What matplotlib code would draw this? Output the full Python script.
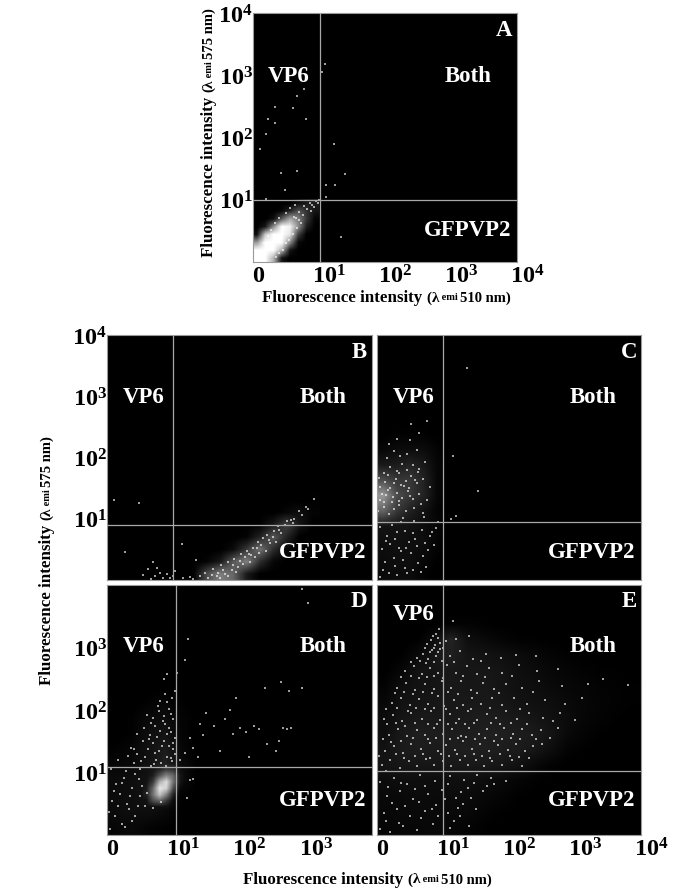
import matplotlib
matplotlib.use("Agg")
import matplotlib.pyplot as plt
import numpy as np
from matplotlib.colors import LinearSegmentedColormap
from matplotlib.transforms import ScaledTranslation

plt.rcParams['font.family'] = ['Liberation Serif', 'DejaVu Serif']
plt.rcParams['font.weight'] = 'bold'
plt.rcParams['mathtext.fontset'] = 'custom'
plt.rcParams['mathtext.rm'] = 'Liberation Serif:bold'
plt.rcParams['mathtext.bf'] = 'Liberation Serif:bold'

W = 685
H = 895

# all intensities are log10 values (0 = the "0" tick)
decade_labels = ['0', r'$\mathbf{10^{1}}$', r'$\mathbf{10^{2}}$', r'$\mathbf{10^{3}}$', r'$\mathbf{10^{4}}$']
quadrants = ['VP6', 'Both', 'GFPVP2']

# gate lines (x, y) per panel
gate_a = (1.01, 1.00)
gate_b = (1.00, 0.89)
gate_c = (1.00, 0.94)
gate_d = (1.04, 1.09)
gate_e = (1.00, 1.03)

# read density of the clouds, rows go bottom to top
a_cloud = [[1, 1, .7, .08, 0, 0, 0, 0],
           [1, 1, 1, .7, .08, 0, 0, 0],
           [.6, 1, 1, 1, .55, .04, 0, 0],
           [.06, .8, 1, 1, .9, .25, 0, 0],
           [0, .1, .55, 1, .95, .55, .12, 0],
           [0, 0, .06, .35, .65, .5, .22, .02],
           [0, 0, 0, .03, .14, .32, .2, .08],
           [0, 0, 0, 0, 0, .05, .1, .12]]
a_cloud_box = (0, 1, 0, 1)

b_cloud = [[0, .3, .5, .4, .1, 0, 0, 0, 0, 0],
           [0, .02, .1, .35, .5, .18, .03, 0, 0, 0],
           [0, 0, 0, .05, .22, .45, .18, .02, 0, 0],
           [0, 0, 0, 0, .02, .14, .35, .14, 0, 0],
           [0, 0, 0, 0, 0, .01, .1, .26, .08, 0],
           [0, 0, 0, 0, 0, 0, 0, .03, .06, .02],
           [0, 0, 0, 0, 0, 0, 0, 0, 0, .01]]
b_cloud_box = (1.2, 3.2, 0, 1.4)

c_cloud = [[.04, .05, .05, .02, 0, 0],
           [.05, .06, .06, .04, .01, 0],
           [.06, .07, .06, .06, .02, 0],
           [.08, .08, .07, .05, .03, 0],
           [.4, .22, .13, .07, .02, 0],
           [.6, .3, .22, .14, .03, 0],
           [.3, .22, .22, .14, .03, 0],
           [.1, .11, .14, .1, .03, 0],
           [.03, .05, .05, .05, .02, 0],
           [0, .01, .01, .01, 0, 0]]
c_cloud_box = (0, 1.2, 0, 2.5)

d_haze = [[.03, .04, .02, .01, 0, 0],
          [.05, .06, .06, .04, 0, 0],
          [.05, .06, .08, .12, .01, 0],
          [.05, .06, .08, .15, .05, 0],
          [.03, .04, .07, .13, .05, 0],
          [.01, .03, .07, .11, .03, 0],
          [0, .01, .06, .08, .02, 0],
          [0, .01, .04, .05, .02, 0],
          [0, 0, .01, .03, .01, 0],
          [0, 0, 0, 0, 0, 0]]
d_haze_box = (0, 1.5, 0, 2.5)

d_core = [[0, 0, 0, 0, 0, 0, 0],
          [0, .25, .35, .15, 0, 0, 0],
          [.05, .4, .75, .45, .08, 0, 0],
          [.03, .35, .9, .8, .25, .01, 0],
          [0, .15, .65, .85, .4, .04, 0],
          [0, .03, .25, .45, .35, .04, 0],
          [0, 0, .03, .12, .12, .01, 0],
          [0, 0, 0, 0, 0, 0, 0]]
d_core_box = (.55, 1.25, .4, 1.2)

e_cloud = [[.07, .08, .08, .09, .08, .05, .02, .01, 0, 0, 0, 0, 0, 0, 0, 0],
           [.08, .1, .1, .1, .1, .09, .05, .02, .01, 0, 0, 0, 0, 0, 0, 0],
           [.1, .1, .12, .11, .12, .12, .09, .06, .02, .01, 0, 0, 0, 0, 0, 0],
           [.12, .14, .14, .13, .15, .15, .13, .1, .06, .03, .01, 0, 0, 0, 0, 0],
           [.2, .22, .22, .22, .24, .24, .24, .22, .18, .1, .04, .01, 0, 0, 0, 0],
           [.18, .26, .28, .26, .28, .3, .3, .28, .26, .22, .14, .05, .02, 0, 0, 0],
           [.14, .24, .3, .28, .28, .28, .3, .3, .28, .26, .2, .1, .05, .02, .01, 0],
           [.12, .2, .24, .24, .24, .26, .28, .26, .24, .2, .16, .12, .07, .04, .02, .01],
           [.08, .18, .2, .22, .24, .24, .24, .22, .18, .16, .14, .1, .07, .05, .03, .02],
           [.04, .14, .18, .2, .24, .22, .24, .2, .16, .14, .1, .08, .06, .04, .03, .02],
           [.01, .08, .18, .2, .24, .22, .22, .2, .15, .12, .08, .06, .04, .02, .02, .01],
           [0, .02, .1, .22, .3, .2, .18, .16, .12, .09, .05, .03, .01, .01, 0, 0],
           [0, 0, .02, .14, .34, .14, .1, .06, .03, .02, .01, 0, 0, 0, 0, 0],
           [0, 0, 0, .01, .04, .04, .02, .01, 0, 0, 0, 0, 0, 0, 0, 0],
           [0] * 16,
           [0] * 16]
e_cloud_box = (0, 4, 0, 4)
e_cloud_level = .42

# single events picked out of each panel
a_points = [(.11, 1.82), (.23, 2.30), (.33, 2.49), (.34, 2.24), (.61, 2.47), (.66, 2.67), (.78, 2.78),
            (.80, 2.29), (1.04, 3.05), (1.09, 3.18), (.19, 2.06), (1.22, 1.90), (1.39, 1.41), (.43, 1.43),
            (.67, 1.46), (.48, 1.15), (1.24, 1.23), (1.11, 1.24), (1.11, 1.04), (1.34, .40), (.2, 1.02),
            (.62, .72), (.7, .8), (.75, .75), (.82, .85), (.9, .92), (.95, .98), (.86, .95), (.78, .9),
            (.72, .62), (.66, .55), (.6, .45), (.55, .35), (.5, .3), (.45, .2), (.4, .15), (.35, .08),
            (.28, .52), (.22, .42), (.33, .62), (.4, .7), (.5, .78), (.56, .86), (.63, .92), (.16, .3),
            (1.0, 1.0), (.98, .95), (.92, .88), (.88, .82), (.7, .68), (.65, .7)]

b_points = [(.1, 1.3), (.48, 1.25), (.27, .45), (1.13, .58), (1.35, .33), (.7, .3), (.75, .2), (.62, .18),
            (.8, .12), (.9, .1), (.85, .04), (.72, .06), (.95, .03), (.55, .08), (.66, .02), (1.0, .06),
            (1.02, .14), (1.15, .03), (1.25, .05), (1.3, .02), (1.4, .06), (1.48, .12), (1.52, .03),
            (1.6, .18), (1.58, .08), (1.68, .12), (1.72, .24), (1.78, .1), (1.82, .3), (1.88, .16),
            (1.92, .34), (1.98, .22), (2.02, .42), (2.05, .26), (2.12, .48), (2.16, .3), (2.2, .52),
            (2.24, .38), (2.28, .62), (2.3, .44), (2.35, .68), (2.4, .48), (2.42, .74), (2.46, .6),
            (2.52, .8), (2.55, .62), (2.58, .88), (2.62, .76), (2.68, .9), (2.72, .96), (2.78, .98),
            (2.82, 1.0), (2.8, .93), (2.9, 1.12), (3.0, 1.2), (3.12, 1.32), (3.03, 1.16), (2.95, 1.06),
            (1.7, .04), (1.83, .07), (1.94, .13), (2.0, .31), (2.09, .37), (2.18, .41), (2.27, .53), (2.33, .57),
            (2.44, .66), (2.5, .71), (2.6, .82), (1.75, .17), (1.66, .06), (1.9, .24), (2.14, .43)]

c_points = [(.05, .05), (.18, .12), (.3, .08), (.42, .2), (.55, .16), (.12, .3), (.25, .36), (.4, .33),
            (.52, .44), (.62, .28), (.7, .4), (.08, .5), (.2, .58), (.34, .52), (.48, .62), (.6, .55),
            (.72, .6), (.8, .72), (.15, .72), (.3, .78), (.42, .8), (.55, .76), (.68, .82), (.9, .85),
            (.05, .86), (.22, .9), (.36, .95), (.92, .95), (1.12, 1.0), (1.2, 1.05), (.02, 1.12), (.1, 1.2),
            (.18, 1.08), (.26, 1.16), (.34, 1.22), (.44, 1.12), (.56, 1.18), (.7, 1.1), (.05, 1.3), (.14, 1.38),
            (.22, 1.28), (.3, 1.42), (.38, 1.34), (.47, 1.46), (.55, 1.32), (.64, 1.4), (.75, 1.3), (.04, 1.52),
            (.12, 1.6), (.2, 1.5), (.29, 1.65), (.36, 1.55), (.44, 1.62), (.52, 1.7), (.6, 1.58), (.7, 1.65),
            (.8, 1.52), (.1, 1.75), (.2, 1.85), (.3, 1.78), (.38, 1.9), (.46, 1.8), (.55, 1.88), (.64, 1.82),
            (.72, 1.92), (.15, 2.0), (.25, 2.1), (.35, 2.02), (.45, 2.05), (.6, 2.12), (.3, 2.3), (.5, 2.28),
            (.63, 2.4), (.52, 2.55), (.76, 2.6), (.18, 2.22), (1.37, 3.46), (1.15, 2.03), (1.53, 1.45),
            (.07, 1.41), (.11, 1.27), (.16, 1.47), (.24, 1.36), (.33, 1.29), (.41, 1.53), (.5, 1.37), (.58, 1.63),
            (.67, 1.24), (.03, 1.67), (.17, 1.71), (.26, 1.58), (.34, 1.74), (.49, 1.51), (.62, 1.77), (.09, .17),
            (.27, .23), (.37, .47), (.46, .11), (.57, .67), (.66, .13), (.74, .21), (.13, .63), (.28, .67),
            (.44, .53), (.77, .49), (.86, .57), (.4, 1.01), (.56, .97), (.71, 1.03), (.83, .79)]

d_points = [(.05, .1), (.12, .3), (.22, .18), (.33, .42), (.08, .55), (.2, .66), (.3, .5), (.42, .3),
            (.5, .62), (.58, .46), (.13, .82), (.26, .92), (.38, .75), (.48, .9), (.06, 1.05), (.16, 1.2),
            (.28, 1.02), (.4, 1.15), (.5, 1.05), (.58, 1.25), (.66, 1.1), (.74, 1.2), (.82, 1.15), (.9, 1.25),
            (.98, 1.18), (.36, 1.4), (.45, 1.3), (.54, 1.5), (.62, 1.38), (.7, 1.48), (.78, 1.35), (.86, 1.5),
            (.94, 1.42), (1.02, 1.3), (.46, 1.62), (.56, 1.72), (.65, 1.6), (.72, 1.75), (.8, 1.66), (.88, 1.78),
            (.96, 1.65), (1.03, 1.55), (.6, 1.92), (.7, 1.88), (.78, 1.98), (.86, 1.9), (.94, 2.02), (1.0, 1.85),
            (.8, 2.15), (.88, 2.25), (.98, 2.2), (1.02, 2.3), (.86, 2.5), (.9, 2.58), (1.22, 3.13), (1.18, 2.8),
            (1.06, 2.6), (3.03, 3.72), (2.95, 3.94), (1.1, 1.2), (1.18, 1.32), (1.25, 1.55), (1.3, 1.4),
            (1.38, 1.25), (1.45, 1.6), (1.4, 1.78), (1.5, 1.95), (1.62, 1.75), (1.7, 1.35), (1.78, 1.85),
            (1.85, 2.0), (1.9, 1.62), (2.0, 1.72), (2.1, 1.65), (2.15, 1.25), (2.22, 1.75), (2.3, 1.7),
            (2.38, 2.35), (2.42, 1.45), (2.55, 1.35), (2.6, 1.5), (2.65, 1.72), (2.72, 1.7), (2.78, 1.72),
            (2.75, 2.3), (2.95, 2.35), (2.62, 2.45), (1.95, 2.2), (1.3, .9), (1.25, .88), (1.2, .6),
            (.03, .37), (.17, .47), (.27, .13), (.37, .23), (.47, .47), (.11, .71), (.23, .83), (.35, .63),
            (.43, .97), (.53, .79), (.61, .67), (.69, .43), (.81, .53), (.31, 1.27), (.41, 1.37), (.51, 1.19),
            (.63, 1.53), (.73, 1.31), (.83, 1.43), (.91, 1.61), (.99, 1.37), (.75, 1.57), (.85, 1.83), (.93, 1.71),
            (.97, 1.93), (.67, 1.79), (.77, 2.07), (.91, 2.13), (1.0, 1.47), (.89, 1.11), (.96, 1.23), (.71, 1.13)]

e_points = [(.05, .1), (.2, .05), (.4, .15), (.6, .08), (.85, .18), (1.1, .12), (1.25, .3), (1.4, .15),
            (.1, .35), (.3, .42), (.5, .3), (.72, .38), (.9, .48), (1.08, .35), (1.3, .5), (1.5, .42),
            (.15, .62), (.35, .7), (.55, .58), (.78, .66), (.98, .72), (1.2, .6), (1.38, .75), (1.6, .7),
            (1.78, .82), (.05, .85), (.25, .92), (.45, .82), (.65, .96), (.88, .86), (1.1, .94), (1.32, .88),
            (1.52, .96), (1.72, .92), (1.95, .86), (.08, 1.12), (.2, 1.2), (.35, 1.08), (.48, 1.18), (.6, 1.1),
            (.74, 1.22), (.86, 1.12), (1.0, 1.18), (1.12, 1.1), (1.25, 1.2), (1.38, 1.12), (1.5, 1.2), (1.62, 1.1),
            (1.75, 1.18), (1.9, 1.12), (2.05, 1.2), (2.2, 1.1), (.12, 1.35), (.26, 1.42), (.4, 1.32), (.52, 1.46),
            (.66, 1.38), (.8, 1.48), (.92, 1.34), (1.05, 1.44), (1.18, 1.36), (1.3, 1.5), (1.44, 1.38), (1.56, 1.46),
            (1.7, 1.34), (1.84, 1.44), (1.98, 1.36), (2.1, 1.46), (2.24, 1.34), (2.36, 1.42), (2.5, 1.45), (.18, 1.6),
            (.32, 1.7), (.46, 1.58), (.6, 1.68), (.72, 1.6), (.86, 1.72), (1.0, 1.62), (1.14, 1.7), (1.28, 1.58),
            (1.4, 1.72), (1.54, 1.62), (1.66, 1.7), (1.8, 1.6), (1.92, 1.72), (2.06, 1.62), (2.2, 1.7), (2.35, 1.6),
            (2.48, 1.68), (2.62, 1.55), (2.75, 1.72), (.1, 1.85), (.24, 1.92), (.38, 1.82), (.52, 1.96), (.68, 1.86),
            (.82, 1.98), (.96, 1.84), (1.1, 1.94), (1.24, 1.86), (1.38, 1.98), (1.52, 1.84), (1.66, 1.94), (1.8, 1.88),
            (1.96, 1.98), (2.12, 1.86), (2.3, 1.96), (2.52, 1.88), (2.78, 1.96), (3.0, 1.84), (.22, 2.12), (.36, 2.2),
            (.5, 2.08), (.64, 2.18), (.78, 2.1), (.92, 2.22), (1.02, 2.06), (1.16, 2.16), (1.3, 2.08), (1.44, 2.2),
            (1.58, 2.1), (1.74, 2.2), (1.9, 2.08), (2.08, 2.2), (2.28, 2.1), (2.55, 2.16), (2.85, 2.1), (3.1, 2.2),
            (.3, 2.36), (.44, 2.44), (.58, 2.32), (.72, 2.42), (.86, 2.34), (.98, 2.46), (1.12, 2.36), (1.28, 2.46),
            (1.42, 2.32), (1.6, 2.44), (1.78, 2.34), (1.96, 2.42), (2.2, 2.36), (2.45, 2.46), (2.8, 2.38), (3.2, 2.42),
            (3.42, 2.49), (3.8, 2.4), (.42, 2.62), (.56, 2.7), (.68, 2.58), (.8, 2.68), (.92, 2.6), (1.06, 2.72),
            (1.2, 2.6), (1.36, 2.7), (1.52, 2.58), (1.7, 2.68), (1.9, 2.6), (2.15, 2.72), (2.42, 2.62), (2.75, 2.66),
            (.6, 2.84), (.7, 2.9), (.78, 2.82), (.84, 2.96), (.9, 2.86), (.96, 2.98), (1.1, 2.86), (1.26, 2.94),
            (1.45, 2.82), (1.65, 2.9), (1.88, 2.84), (2.1, 2.88), (2.41, 2.86), (.76, 3.06), (.82, 3.12), (.88, 3.04),
            (.92, 3.16), (.96, 3.08), (.94, 3.29), (1.04, 3.1), (1.2, 3.14), (1.4, 3.18), (1.15, 3.42), (.9, 3.22),
            # second pass over the same cloud, between the ones above
            (.13, .23), (.33, .19), (.67, .27), (.93, .31), (1.17, .23), (.23, .51), (.43, .47), (.63, .53),
            (.83, .41), (1.03, .57), (1.23, .43), (1.43, .59), (.17, .77), (.37, .83), (.57, .73), (.73, .79),
            (1.07, .81), (1.27, .69), (1.47, .83), (1.67, .79), (.03, 1.27), (.14, 1.03), (.29, 1.29), (.41, 1.23),
            (.57, 1.27), (.69, 1.29), (.81, 1.23), (.97, 1.29), (1.09, 1.27), (1.21, 1.29), (1.33, 1.27), (1.47, 1.29),
            (1.59, 1.27), (1.71, 1.23), (1.87, 1.29), (2.01, 1.27), (2.15, 1.25), (2.31, 1.23), (.09, 1.53), (.21, 1.49),
            (.37, 1.51), (.55, 1.55), (.77, 1.53), (.89, 1.55), (1.11, 1.53), (1.23, 1.55), (1.35, 1.57), (1.49, 1.53),
            (1.63, 1.55), (1.77, 1.5), (1.89, 1.53), (2.03, 1.55), (2.17, 1.53), (2.41, 1.53), (.15, 1.77), (.29, 1.79),
            (.43, 1.75), (.57, 1.79), (.77, 1.77), (.91, 1.78), (1.07, 1.77), (1.19, 1.79), (1.33, 1.77), (1.47, 1.79),
            (1.73, 1.79), (1.87, 1.77), (2.03, 1.79), (2.27, 1.78), (2.67, 1.83), (.13, 2.01), (.31, 2.03), (.47, 1.99),
            (.59, 2.03), (.73, 2.01), (.87, 2.04), (1.05, 2.01), (1.21, 2.03), (1.43, 2.02), (1.71, 2.03), (2.17, 2.01),
            (.27, 2.27), (.41, 2.29), (.55, 2.25), (.69, 2.29), (.83, 2.27), (1.07, 2.29), (1.23, 2.26), (1.51, 2.28),
            (1.85, 2.27), (2.37, 2.29), (.37, 2.53), (.51, 2.55), (.63, 2.51), (.75, 2.53), (.87, 2.55), (1.0, 2.51),
            (1.31, 2.55), (1.63, 2.53), (2.05, 2.55), (.52, 2.77), (.65, 2.79), (.74, 2.75), (.86, 2.77), (.99, 2.79),
            (1.17, 2.77), (1.57, 2.79), (.72, 3.0), (.8, 2.93), (.87, 3.0), (.93, 2.93), (1.0, 3.0), (.85, 3.18)]


def px_box(left, top, right, bottom):
    return [left / W, 1 - bottom / H, (right - left) / W, (bottom - top) / H]


def put_text(x, y, text, size, rotation=0, color='black', ha='center'):
    return fig.text(x / W, 1 - y / H, text, fontsize=size, rotation=rotation, color=color,
                    ha=ha, va='center', fontweight='bold', rotation_mode='anchor')


def intensity_label(x, y, wave, rotation=0):
    # main words, then the smaller bracket written in pieces along the same line
    pieces = [('Fluorescence intensity ', 12.2), ('(', 11), ('\u03bb', 11), (' emi ', 7.5), (wave + ' nm)', 10.5)]
    r = fig.canvas.get_renderer()
    pos = 0
    for txt, size in pieces:
        if rotation:
            t = put_text(x, y - pos, txt, size, rotation=90, ha='left')
            pos += t.get_window_extent(r).height
        else:
            t = put_text(x + pos, y, txt, size, ha='left')
            pos += t.get_window_extent(r).width


def panel(box, letter, gate, clouds, points, xticks, yticks, text_at, letter_at):
    ax = fig.add_axes(px_box(*box))
    ax.set_facecolor('black')
    for grid, ext, level in clouds:
        ax.imshow(np.array(grid) * level, extent=ext, origin='lower', cmap=glow, vmin=0, vmax=1,
                  interpolation='bilinear', aspect='auto', zorder=1)
    px, py = zip(*points)
    ax.scatter(px, py, s=1.0, c='white', marker='s', linewidths=0, alpha=.62, zorder=2)
    ax.axvline(gate[0], color='#a8a8a8', lw=.9, zorder=3)
    ax.axhline(gate[1], color='#a8a8a8', lw=.9, zorder=3)
    ax.set_xlim(0, 4)
    ax.set_ylim(0, 4)
    for sp in ax.spines.values():
        sp.set_color('#9a9a9a')
        sp.set_linewidth(.8)

    ax.set_xticks(range(len(xticks)))
    ax.set_xticklabels([decade_labels[i] for i in xticks], fontsize=17.5)
    ax.tick_params(axis='x', length=0, pad=2)
    for i, lab in zip(xticks, ax.get_xticklabels()):
        dx = 5 if i == 0 else 10
        lab.set_transform(lab.get_transform() + ScaledTranslation(dx / 100, 0, fig.dpi_scale_trans))

    ax.set_yticks(yticks)
    ax.set_yticklabels([decade_labels[i] for i in yticks], fontsize=17.5)
    ax.tick_params(axis='y', length=0, pad=0)

    for name, (x, y) in zip(quadrants, text_at):
        put_text(x, y, name, 16.5, color='white')
    put_text(letter_at[0], letter_at[1], letter, 16.5, color='white')
    return ax


fig = plt.figure(figsize=(W / 100, H / 100), dpi=100)
glow = LinearSegmentedColormap.from_list('glow', [(1, 1, 1, 0), (1, 1, 1, 1)])

panel((253, 14, 517, 263), 'A', gate_a, [(a_cloud, a_cloud_box, 1)], a_points, [0, 1, 2, 3, 4], [1, 2, 3, 4],
      [(289, 76), (468, 76), (468, 231)], (504, 31))
panel((107, 336, 372, 581), 'B', gate_b, [(b_cloud, b_cloud_box, 1)], b_points, [], [1, 2, 3, 4],
      [(144, 398), (323, 398), (323, 552)], (359, 352))
panel((377, 336, 641, 581), 'C', gate_c, [(c_cloud, c_cloud_box, 1)], c_points, [], [],
      [(414, 398), (593, 398), (592, 552)], (629, 352))
panel((107, 586, 372, 836), 'D', gate_d, [(d_haze, d_haze_box, 1), (d_core, d_core_box, 1)], d_points, [0, 1, 2, 3], [1, 2, 3],
      [(144, 647), (323, 647), (323, 801)], (359, 602))
panel((377, 586, 641, 836), 'E', gate_e, [(e_cloud, e_cloud_box, e_cloud_level)], e_points, [0, 1, 2, 3, 4], [],
      [(414, 615), (593, 647), (592, 801)], (629, 602))

intensity_label(262, 298, '510')
intensity_label(209, 257, '575', rotation=90)
intensity_label(243, 880, '510')
intensity_label(47, 685, '575', rotation=90)

fig.savefig('out.png', dpi=100, facecolor='white')
